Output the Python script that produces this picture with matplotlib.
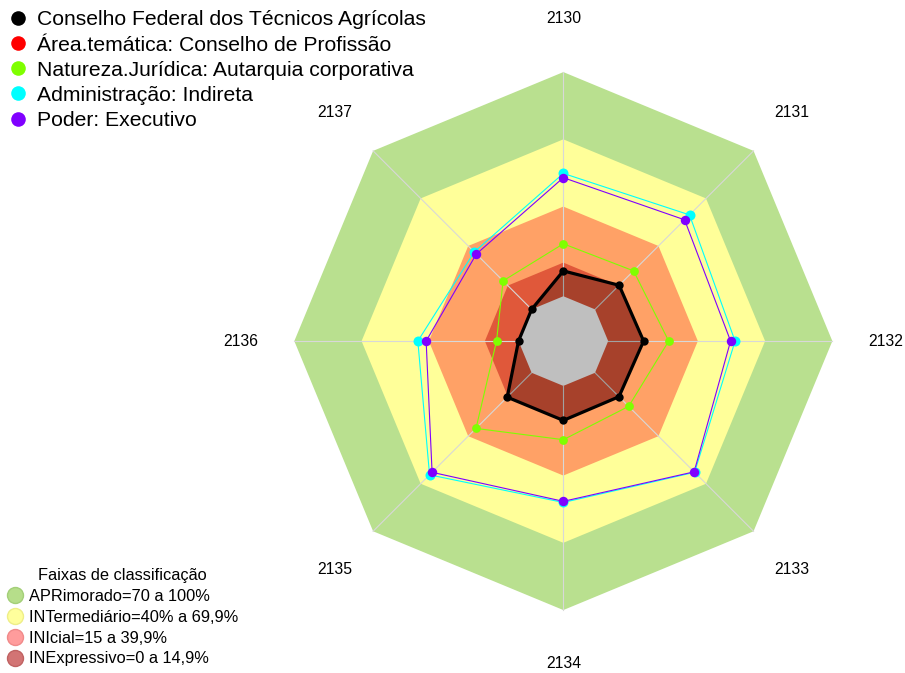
import numpy as np
import matplotlib.pyplot as plt
from matplotlib.lines import Line2D
from matplotlib.patches import Polygon

plt.rcParams['font.family'] = ['Liberation Sans', 'DejaVu Sans']

# Dados (percentuais por item)
categorias = ['2130', '2131', '2132', '2133', '2134', '2135', '2136', '2137']

conselho = [11.3, 15.2, 15.8, 15.1, 15.4, 15.4, 0.0, 0.0]
natureza = [23.4, 24.3, 27.0, 21.2, 24.0, 35.1, 9.8, 18.0]
administracao = [54.8, 59.6, 56.6, 62.8, 52.0, 64.4, 44.9, 36.2]
poder = [52.9, 56.5, 54.6, 62.5, 51.5, 62.8, 41.2, 34.9]

nomes_series = ['Conselho Federal dos Técnicos Agrícolas',
                'Área.temática: Conselho de Profissão',
                'Natureza.Jurídica: Autarquia corporativa',
                'Administração: Indireta',
                'Poder: Executivo']
cores_series = ['black', 'red', '#7fff00', 'cyan', '#8000ff']

faixas_lim = [100, 70, 40, 15]
faixas_cor = ['#b9e08f', '#ffff99', '#ffa166', '#e0583a']
faixas_nome = ['APRimorado=70 a 100%', 'INTermediário=40% a 69,9%',
               'INIcial=15 a 39,9%', 'INExpressivo=0 a 14,9%']
faixas_leg_cor = ['#b6de8a', '#ffff9c', '#ff9c9c', '#d27474']
faixas_leg_borda = ['#a3cf78', '#eeee88', '#f08a8a', '#c06262']

SEG = 5  # folga central como no fmsb (centerzero = FALSE)


def raio(v):
    return (1 + SEG * np.asarray(v, dtype=float) / 100.0) / (SEG + 1)


n = len(categorias)
ang = np.deg2rad(90 - 360.0 / n * np.arange(n))
cx, cy = np.cos(ang), np.sin(ang)

fig = plt.figure(figsize=(9.05, 6.73), dpi=100)
ax = fig.add_axes([0, 0, 1, 1])
ax.set_xlim(-2.094, 1.270)
ax.set_ylim(-1.234, 1.268)
ax.axis('off')

# faixas de classificacao
for lim, cor in zip(faixas_lim, faixas_cor):
    r = raio(lim)
    ax.add_patch(Polygon(np.c_[r * cx, r * cy], closed=True, fc=cor, ec='none', zorder=1))
r0 = raio(0)
ax.add_patch(Polygon(np.c_[r0 * cx, r0 * cy], closed=True, fc='#bfbfbf', ec='none', zorder=4.5))

# eixos
for i in range(n):
    ax.plot([r0 * cx[i], cx[i]], [r0 * cy[i], cy[i]], color='#d8d8d8', lw=0.8, zorder=3)
    ax.text(1.2 * cx[i], 1.2 * cy[i], categorias[i], ha='center', va='center', fontsize=11.3)


def serie(vals, cor, lw, ms, fill=None):
    r = raio(vals)
    xs = np.append(r * cx, r[0] * cx[0])
    ys = np.append(r * cy, r[0] * cy[0])
    if fill is not None:
        ax.fill(xs, ys, color='black', alpha=fill, lw=0, zorder=4)
    ax.plot(xs, ys, color=cor, lw=lw, zorder=5)
    ax.plot(r * cx, r * cy, 'o', color=cor, ms=ms, mec='none', zorder=6)


serie(conselho, 'black', 2.3, 6, fill=0.25)
serie(natureza, '#7fff00', 0.8, 6.3)
serie(administracao, 'cyan', 0.8, 7.2)
serie(poder, '#8000ff', 0.8, 6.8)

h1 = [Line2D([], [], marker='o', ls='', color=c, ms=10.5, mec='none') for c in cores_series]
leg1 = ax.legend(h1, nomes_series, loc='upper left', bbox_to_anchor=(0.0, 0.997),
                 frameon=False, fontsize=15.2, handlelength=0.9, handletextpad=0.45,
                 labelspacing=0.29, borderaxespad=0.15, borderpad=0.25)
ax.add_artist(leg1)

h2 = [Line2D([], [], marker='o', ls='', mfc=c, mec=e, ms=11.5, mew=1)
      for c, e in zip(faixas_leg_cor, faixas_leg_borda)]
ax.legend(h2, faixas_nome, loc='lower left', bbox_to_anchor=(0.001, 0.0),
          frameon=False, fontsize=11.8, title='Faixas de classificação', title_fontsize=11.8,
          handlelength=0.9, handletextpad=0.4, labelspacing=0.36, borderaxespad=0.1,
          borderpad=0.3)

fig.savefig('out.png', dpi=100)
